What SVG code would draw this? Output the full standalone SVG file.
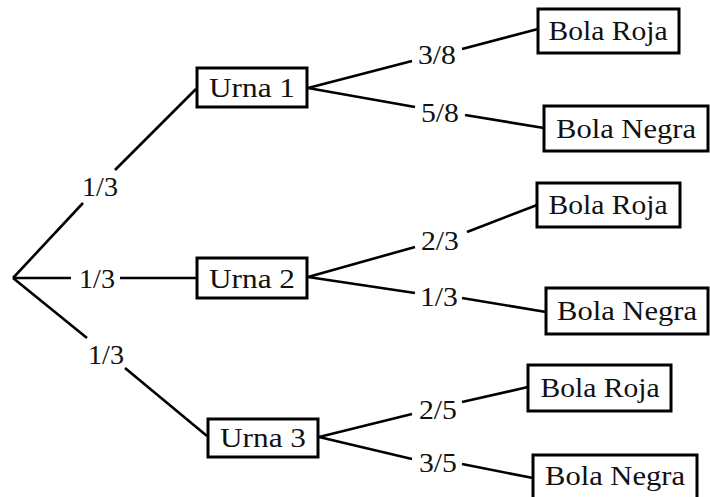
<svg xmlns="http://www.w3.org/2000/svg" width="710" height="497" viewBox="0 0 710 497">
<style>
  .box { fill: #ffffff; stroke: #000000; stroke-width: 3; }
  .t { font-family: "Liberation Serif", "Times New Roman", serif; font-size: 28px; fill: #111111; text-anchor: middle; }
  .lbl { font-family: "Liberation Serif", "Times New Roman", serif; font-size: 27px; fill: #111111; text-anchor: middle; }
  .edge { stroke: #000000; stroke-width: 2.6; fill: none; stroke-linecap: butt; }
</style>
<rect width="710" height="497" fill="#ffffff"/>
<g id="connectors">
  <line class="edge" x1="13" y1="278" x2="83" y2="203"/>
  <line class="edge" x1="115" y1="170" x2="196" y2="89"/>
  <line class="edge" x1="13" y1="278" x2="71" y2="278"/>
  <line class="edge" x1="120" y1="278" x2="197" y2="278"/>
  <line class="edge" x1="13" y1="278" x2="87" y2="338"/>
  <line class="edge" x1="125" y1="368" x2="207" y2="436"/>
  <line class="edge" x1="308" y1="88" x2="412" y2="61"/>
  <line class="edge" x1="462" y1="49" x2="538" y2="29"/>
  <line class="edge" x1="308" y1="88" x2="415" y2="107"/>
  <line class="edge" x1="465" y1="115" x2="544" y2="128"/>
  <line class="edge" x1="308" y1="277" x2="415" y2="247"/>
  <line class="edge" x1="467" y1="232" x2="537" y2="205"/>
  <line class="edge" x1="308" y1="277" x2="415" y2="293"/>
  <line class="edge" x1="462" y1="298" x2="546" y2="312"/>
  <line class="edge" x1="319" y1="437" x2="412" y2="414"/>
  <line class="edge" x1="462" y1="402" x2="528" y2="387"/>
  <line class="edge" x1="319" y1="437" x2="412" y2="459"/>
  <line class="edge" x1="462" y1="464" x2="533" y2="478"/>
  <text class="lbl" x="100" y="196" textLength="36" lengthAdjust="spacingAndGlyphs">1/3</text>
  <text class="lbl" x="97" y="288" textLength="36" lengthAdjust="spacingAndGlyphs">1/3</text>
  <text class="lbl" x="106" y="364" textLength="36" lengthAdjust="spacingAndGlyphs">1/3</text>
  <text class="lbl" x="437" y="64" textLength="38" lengthAdjust="spacingAndGlyphs">3/8</text>
  <text class="lbl" x="440" y="122" textLength="38" lengthAdjust="spacingAndGlyphs">5/8</text>
  <text class="lbl" x="440" y="250" textLength="38" lengthAdjust="spacingAndGlyphs">2/3</text>
  <text class="lbl" x="439" y="306" textLength="38" lengthAdjust="spacingAndGlyphs">1/3</text>
  <text class="lbl" x="438" y="419" textLength="38" lengthAdjust="spacingAndGlyphs">2/5</text>
  <text class="lbl" x="438" y="472" textLength="38" lengthAdjust="spacingAndGlyphs">3/5</text>
</g>
<g id="urna1">
  <rect class="box" x="197" y="68" width="110" height="39"/>
  <text class="t" x="252" y="97" textLength="86" lengthAdjust="spacingAndGlyphs">Urna 1</text>
</g>
<g id="urna2">
  <rect class="box" x="197" y="258" width="110" height="40"/>
  <text class="t" x="252" y="288" textLength="86" lengthAdjust="spacingAndGlyphs">Urna 2</text>
</g>
<g id="urna3">
  <rect class="box" x="208" y="419" width="110" height="38"/>
  <text class="t" x="263" y="447" textLength="86" lengthAdjust="spacingAndGlyphs">Urna 3</text>
</g>
<g id="roja1">
  <rect class="box" x="538" y="9" width="141" height="44"/>
  <text class="t" x="608" y="40" textLength="119" lengthAdjust="spacingAndGlyphs">Bola Roja</text>
</g>
<g id="negra1">
  <rect class="box" x="544" y="106" width="164" height="45"/>
  <text class="t" x="626" y="138" textLength="140" lengthAdjust="spacingAndGlyphs">Bola Negra</text>
</g>
<g id="roja2">
  <rect class="box" x="537" y="183" width="143" height="44"/>
  <text class="t" x="608" y="214" textLength="119" lengthAdjust="spacingAndGlyphs">Bola Roja</text>
</g>
<g id="negra2">
  <rect class="box" x="546" y="288" width="162" height="46"/>
  <text class="t" x="627" y="320" textLength="140" lengthAdjust="spacingAndGlyphs">Bola Negra</text>
</g>
<g id="roja3">
  <rect class="box" x="528" y="365" width="143" height="46"/>
  <text class="t" x="600" y="397" textLength="119" lengthAdjust="spacingAndGlyphs">Bola Roja</text>
</g>
<g id="negra3">
  <rect class="box" x="533" y="455" width="164" height="48"/>
  <text class="t" x="615" y="485" textLength="140" lengthAdjust="spacingAndGlyphs">Bola Negra</text>
</g>
</svg>
